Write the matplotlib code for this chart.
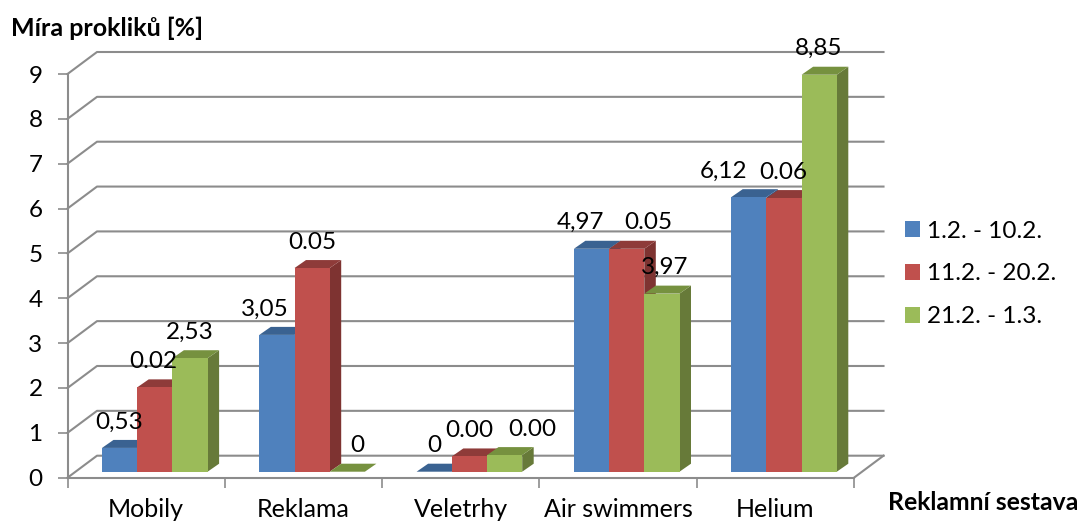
import matplotlib
matplotlib.use("Agg")
import matplotlib.pyplot as plt
from matplotlib.patches import Patch, Polygon, Rectangle

plt.rcParams['font.family'] = ['Lato', 'DejaVu Sans']

categories = ["Mobily", "Reklama", "Veletrhy", "Air swimmers", "Helium"]
series_names = ["1.2. - 10.2.", "11.2. - 20.2.", "21.2. - 1.3."]

# vysky sloupcu
blue_values = [0.53, 3.05, 0, 4.97, 6.12]
red_values = [1.88, 4.54, 0.34, 4.97, 6.10]
green_values = [2.53, 0, 0.37, 3.97, 8.85]

# popisky presne jak jsou v grafu (cervene nesedi s vyskou)
blue_labels = ["0,53", "3,05", "0", "4,97", "6,12"]
red_labels = ["0.02", "0.05", "0.00", "0.05", "0.06"]
green_labels = ["2,53", "0", "0.00", "3,97", "8,85"]

# rucni posuny popisku v pixelech
blue_shift = [0, -12, 0, -11, -25]
red_shift = [-1, 0, 0, 22, -1]
green_shift = [0, 10, 28, 3, -1]

colors = ["#4F81BD", "#C0504D", "#9BBB59"]
top_colors = ["#3A6291", "#8E3B39", "#76913F"]
side_colors = ["#2F5785", "#7E3331", "#677A39"]
grid_color = "#8C8C8C"

# prepocet pixelu na jednotky os
PX_X = 1 / 157.3
PX_Y = 1 / 44.85
WALL_X, WALL_Y = 29.5 * PX_X, 22 * PX_Y
DEPTH_X, DEPTH_Y = 11.5 * PX_X, 8 * PX_Y
BASE = 6 * PX_Y
FIRST = 34.5 * PX_X
BAR_W = 35.2 * PX_X

fig = plt.figure(figsize=(10.82, 5.23), dpi=100)
ax = fig.add_axes([67.5 / 1082, 1 - 477.7 / 523, 786.5 / 1082, 403.7 / 523])
ax.set_xlim(0, 5)
ax.set_ylim(0, 9)
ax.spines['top'].set_visible(False)
ax.spines['right'].set_visible(False)
ax.spines['left'].set_color(grid_color)
ax.spines['bottom'].set_color(grid_color)
ax.spines['left'].set_linewidth(1.5)
ax.spines['bottom'].set_linewidth(1.5)

# zadni stena a podlaha
for v in range(10):
    ax.plot([0, WALL_X, 5 + WALL_X], [v, v + WALL_Y, v + WALL_Y],
            color=grid_color, lw=1.5, clip_on=False, zorder=1)
ax.plot([5, 5 + WALL_X], [0, WALL_Y], color=grid_color, lw=1.5, clip_on=False, zorder=1)

ax.set_yticks(range(10))
ax.set_xticks(range(6))
ax.set_xticklabels([])
ax.set_xticks([i + 0.5 for i in range(5)], minor=True)
ax.set_xticklabels(categories, minor=True)
ax.tick_params(axis='y', length=7, width=1.2, color=grid_color, labelsize=17.5, pad=11)
ax.tick_params(axis='x', which='major', length=7, width=1.2, color=grid_color)
ax.tick_params(axis='x', which='minor', length=0, labelsize=18, pad=14.5)

all_values = [blue_values, red_values, green_values]
all_labels = [blue_labels, red_labels, green_labels]
all_shifts = [blue_shift, red_shift, green_shift]

z = 3
for i in range(len(categories)):
    for s in range(3):
        v = all_values[s][i]
        x0 = i + FIRST + s * BAR_W
        x1 = x0 + BAR_W
        y1 = BASE + v
        ax.add_patch(Polygon([(x1, BASE), (x1 + DEPTH_X, BASE + DEPTH_Y),
                              (x1 + DEPTH_X, y1 + DEPTH_Y), (x1, y1)],
                             facecolor=side_colors[s], edgecolor='none', clip_on=False, zorder=z))
        ax.add_patch(Polygon([(x0, y1), (x1, y1), (x1 + DEPTH_X, y1 + DEPTH_Y),
                              (x0 + DEPTH_X, y1 + DEPTH_Y)],
                             facecolor=top_colors[s], edgecolor='none', clip_on=False, zorder=z))
        ax.add_patch(Rectangle((x0, BASE), BAR_W, v, facecolor=colors[s],
                               edgecolor='none', clip_on=False, zorder=z))
        z += 1

# popisky az nad sloupci
for i in range(len(categories)):
    for s in range(3):
        v = all_values[s][i]
        x = i + FIRST + (s + 0.5) * BAR_W + all_shifts[s][i] * PX_X
        ax.text(x, BASE + v + 26 * PX_Y, all_labels[s][i], ha='center', va='center',
                fontsize=17.5, color='black', clip_on=False, zorder=50)

handles = [Patch(facecolor=c, edgecolor='none') for c in colors]
fig.legend(handles, series_names, loc='center left', bbox_to_anchor=(905 / 1082, 1 - 274 / 523),
           frameon=False, fontsize=17.5, handlelength=0.62, handleheight=0.62,
           handletextpad=0.3, labelspacing=0.9, borderpad=0, borderaxespad=0)

fig.text(11 / 1082, 1 - 28 / 523, "Míra prokliků [%]", fontsize=18, fontweight='bold',
         ha='left', va='center')
fig.text(888 / 1082, 1 - 502.5 / 523, "Reklamní sestava", fontsize=17.8, fontweight='bold',
         ha='left', va='center')

fig.savefig("out.png", dpi=100)
